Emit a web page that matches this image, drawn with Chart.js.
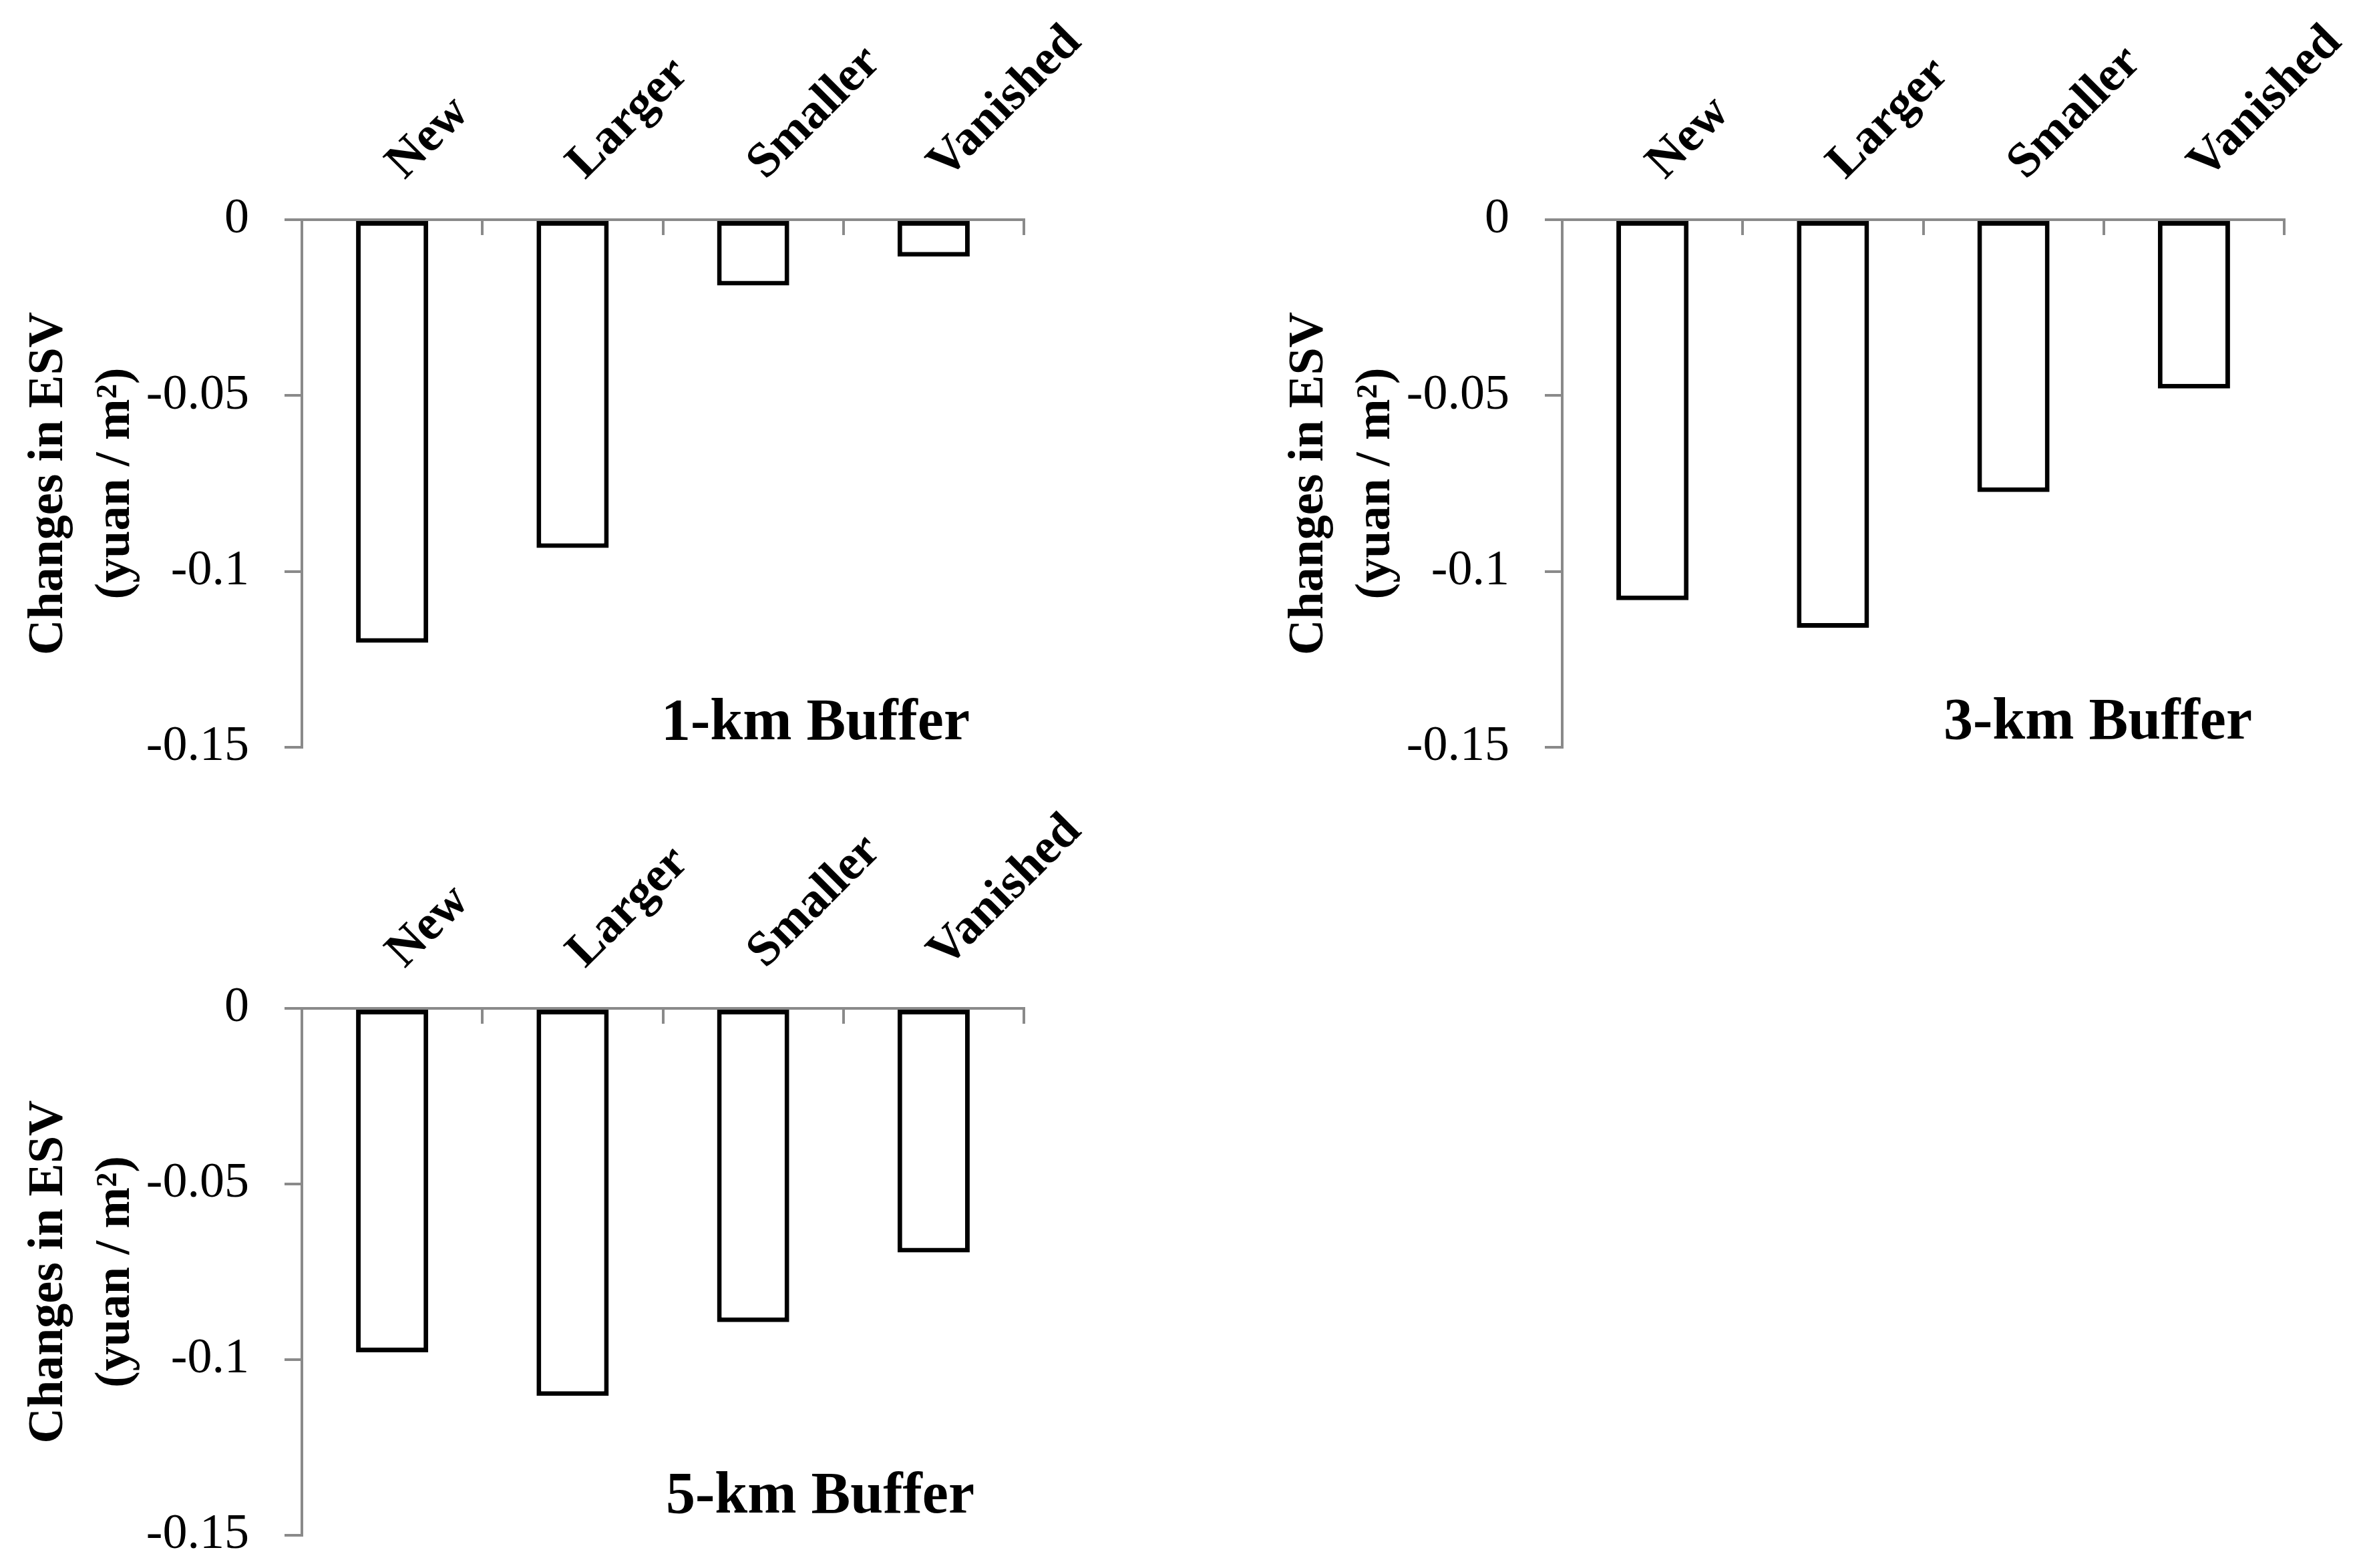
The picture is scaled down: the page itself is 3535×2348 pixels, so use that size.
<!DOCTYPE html>
<html lang="en">
<head>
<meta charset="UTF-8">
<title>Changes in ESV by buffer distance</title>
<script src="https://cdn.jsdelivr.net/npm/chart.js"></script>
<style>
    html, body { margin: 0; padding: 0; background: #fff; }
    body { width: 3535px; height: 2348px; position: relative; overflow: hidden; }
    .panel { position: absolute; }
    #p1 { left: 0; top: 0; width: 1700px; height: 1170px; }
    #p2 { left: 1887px; top: 0; width: 1648px; height: 1170px; }
    #p3 { left: 0; top: 1181px; width: 1700px; height: 1167px; }
</style>
</head>
<body>
<div class="panel" id="p1"><canvas id="chart1"></canvas></div>
<div class="panel" id="p2"><canvas id="chart2"></canvas></div>
<div class="panel" id="p3"><canvas id="chart3"></canvas></div>
<script>
// values
const categories = ['New', 'Larger', 'Smaller', 'Vanished'];
const buffer1km = [-0.1203, -0.0933, -0.0187, -0.0105];
const buffer3km = [-0.1082, -0.1160, -0.0774, -0.0480];
const buffer5km = [-0.0979, -0.1103, -0.0893, -0.0695];
const yTicks = [0, -0.05, -0.1, -0.15];
const panelTitles = ['1-km Buffer', '3-km Buffer', '5-km Buffer'];
const yTitle = ['Changes in ESV', '(yuan / m\u00b2)'];

const serif = '"Liberation Serif", "Times New Roman", serif';
const axisGray = '#8a8a8a';

Chart.defaults.font.family = serif;
Chart.defaults.color = '#000';

// small downward ticks between the categories, like the Excel original
const categoryTicks = {
    id: 'categoryTicks',
    afterDraw(chart) {
        const xs = chart.scales.x;
        const top = chart.chartArea.top;
        const ctx = chart.ctx;
        ctx.save();
        ctx.strokeStyle = axisGray;
        ctx.lineWidth = 4;
        for (let i = 0; i <= categories.length; i++) {
            const px = Math.round(xs.getPixelForValue(i - 0.5));
            ctx.beginPath();
            ctx.moveTo(px, top - 2);
            ctx.lineTo(px, top + 23);
            ctx.stroke();
        }
        ctx.restore();
    }
};

// "x-km Buffer" caption inside the plot area
const panelLabel = {
    id: 'panelLabel',
    afterDraw(chart, args, opts) {
        const { ctx, chartArea } = chart;
        ctx.save();
        ctx.font = 'bold 88px ' + serif;
        ctx.fillStyle = '#000';
        ctx.textAlign = 'center';
        ctx.textBaseline = 'alphabetic';
        ctx.fillText(opts.text, chartArea.left + opts.dx, chartArea.bottom - opts.dy);
        ctx.restore();
    }
};

function tickText(v) {
    return String(Number(v.toFixed(2)));
}

function makeChart(id, values, title, pad, labelPos) {
    const ctx = document.getElementById(id).getContext('2d');
    return new Chart(ctx, {
        type: 'bar',
        data: {
            labels: categories,
            datasets: [{
                data: values,
                backgroundColor: '#ffffff',
                borderColor: '#000000',
                borderWidth: 7,
                borderSkipped: false,
                barPercentage: 0.4,
                categoryPercentage: 1.0
            }]
        },
        options: {
            responsive: true,
            maintainAspectRatio: false,
            animation: false,
            layout: { padding: pad },
            plugins: {
                legend: { display: false },
                tooltip: { enabled: false },
                panelLabel: { text: title, dx: labelPos.dx, dy: labelPos.dy }
            },
            scales: {
                x: {
                    position: 'top',
                    offset: true,
                    z: 1,
                    grid: { display: true, drawOnChartArea: false, drawTicks: false },
                    border: { display: true, color: axisGray, width: 4 },
                    ticks: {
                        autoSkip: false,
                        minRotation: 45,
                        maxRotation: 45,
                        padding: 41,
                        labelOffset: 68,
                        color: '#000',
                        font: { family: serif, size: 74, weight: 'bold' }
                    },
                    afterFit(s) {
                        s.height = 329;
                        s.paddingLeft = 0;
                        s.paddingRight = 0;
                    }
                },
                y: {
                    min: -0.15,
                    max: 0,
                    afterBuildTicks(s) {
                        s.ticks = yTicks.map(v => ({ value: v }));
                    },
                    grid: { drawOnChartArea: false, tickLength: 26, color: axisGray, lineWidth: 4 },
                    border: { color: axisGray, width: 4 },
                    ticks: {
                        padding: 53,
                        color: '#000',
                        font: { family: serif, size: 74 },
                        callback: v => tickText(v)
                    },
                    title: {
                        display: true,
                        text: yTitle,
                        color: '#000',
                        font: { family: serif, size: 74, weight: 'bold', lineHeight: 1.35 },
                        padding: { top: 24, bottom: 0 }
                    },
                    afterFit(s) {
                        s.width = 452;
                        s.paddingTop = 0;
                        s.paddingBottom = 0;
                    }
                }
            }
        },
        plugins: [categoryTicks, panelLabel]
    });
}

makeChart('chart1', buffer1km, panelTitles[0], { left: 0, top: 0, right: 167, bottom: 51 }, { dx: 769, dy: 12 });
makeChart('chart2', buffer3km, panelTitles[1], { left: 0, top: 0, right: 115, bottom: 51 }, { dx: 802, dy: 13 });
makeChart('chart3', buffer5km, panelTitles[2], { left: 0, top: 0, right: 167, bottom: 49 }, { dx: 776, dy: 34 });
</script>
</body>
</html>
